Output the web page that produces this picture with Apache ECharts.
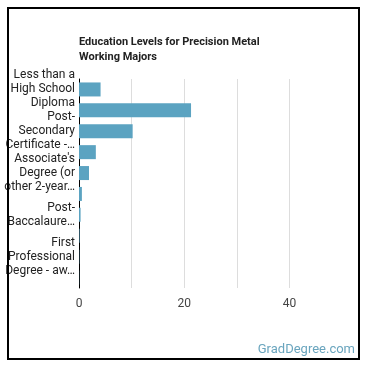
<!DOCTYPE html>
<html>
<head>
<meta charset="utf-8">
<script src="https://cdn.jsdelivr.net/npm/echarts@6/dist/echarts.min.js"></script>
<style>
  html, body { margin: 0; padding: 0; background: #fff; }
  #chart { width: 370px; height: 370px; position: relative; }
  #frame { position: absolute; left: 7px; top: 7px; width: 349px; height: 349px; border: 2px solid #000; pointer-events: none; }
</style>
</head>
<body>
<div id="chart"></div>
<div id="frame"></div>
<script>
// data
const categories = [
  'Less than a High School Diploma',
  'High School Diploma',
  'Post-Secondary Certificate - awarded for training completed after high school',
  'Some College Courses',
  "Associate's Degree (or other 2-year degree)",
  "Bachelor's Degree",
  'Post-Baccalaureate Certificate',
  "Master's Degree",
  'First Professional Degree - awarded for completion of a program',
  'Doctoral Degree'
]
// wrapped text as shown on the axis (every other label is hidden)
const shownLabels = [
  'Less than a\nHigh School\nDiploma',
  '',
  'Post-\nSecondary\nCertificate -…',
  '',
  "Associate's\nDegree (or\nother 2-year…",
  '',
  'Post-\nBaccalaure…',
  '',
  'First\nProfessional\nDegree - aw…',
  ''
]
const values = [4.1, 21.3, 10.2, 3.2, 1.9, 0.55, 0.3, 0.1, 0.05, 0.03]
const tickLabels = ['0', '20', '40']

const chart = echarts.init(document.getElementById('chart'))
const option = {
  animation: false,
  textStyle: { fontFamily: 'Roboto' },
  title: {
    text: 'Education Levels for Precision Metal\nWorking Majors',
    left: 79,
    top: 35,
    padding: 0,
    textStyle: { fontSize: 11, fontWeight: 'bold', color: '#222', lineHeight: 14.5, fontFamily: 'Roboto' }
  },
  grid: { left: 79, top: 79, bottom: 82, right: 28, containLabel: false },
  xAxis: {
    type: 'value',
    min: 0,
    max: 50,
    interval: 10,
    axisLine: { show: false },
    axisTick: { show: false },
    splitLine: { show: true, showMaxLine: false, lineStyle: { color: '#ddd', width: 1 } },
    axisLabel: {
      color: '#444',
      fontSize: 12,
      margin: 10,
      showMaxLabel: false,
      formatter: function(v) {
        return tickLabels.indexOf(String(v)) >= 0 ? String(v) : ''
      }
    }
  },
  yAxis: {
    type: 'category',
    inverse: true,
    data: categories,
    axisLine: { show: true, lineStyle: { color: '#000', width: 1 } },
    axisTick: { show: false },
    axisLabel: {
      interval: 0,
      color: '#222',
      fontSize: 12,
      lineHeight: 14,
      margin: 4,
      formatter: function(v, i) {
        return shownLabels[i]
      }
    }
  },
  series: [
    {
      type: 'bar',
      data: values,
      barCategoryGap: '33%',
      itemStyle: { color: '#5ba3c1' }
    }
  ],
  graphic: [
    {
      type: 'text',
      right: 15,
      bottom: 14,
      style: { text: 'GradDegree.com', fontSize: 13, fill: '#6aa5be', fontFamily: 'Roboto' }
    }
  ]
}
chart.setOption(option)
</script>
</body>
</html>
